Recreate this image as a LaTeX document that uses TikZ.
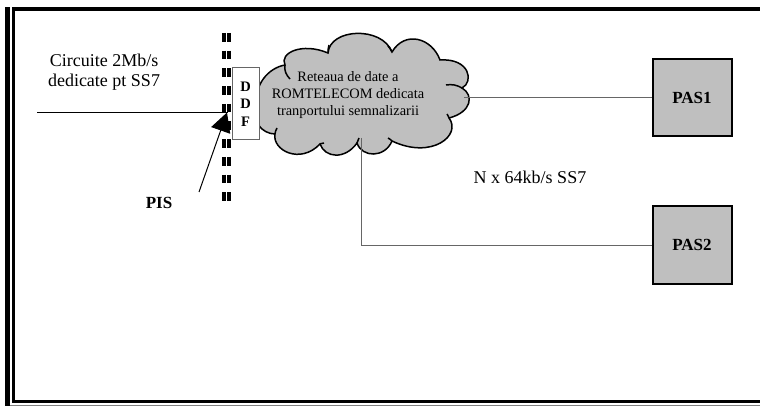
\documentclass[tikz,border=0pt]{standalone}
\usepackage{fontspec}
\setmainfont{Liberation Serif}
\usetikzlibrary{arrows.meta}

\begin{document}
\begin{tikzpicture}[x=1pt,y=-1pt,node distance=147pt,
                    pas node/.style={rectangle,draw=black,line width=2pt,fill=black!25,minimum width=79pt,minimum height=77pt,font=\fontsize{17}{20}\selectfont\bfseries},
                    ddf node/.style={rectangle,draw=black!60,line width=1pt,fill=white,minimum width=27pt,minimum height=72pt,inner sep=0pt,align=center,font=\fontsize{14.5}{17.5}\selectfont\bfseries},
                    label node/.style={align=center,inner sep=0pt,font=\fontsize{18}{20}\selectfont},
                    link/.style={draw=black!60,line width=1pt},
                    cloud line/.style={draw=black,line width=1.5pt},
                    bar/.style={line width=4pt,dash pattern=on 8.7pt off 9pt}]
  \useasboundingbox (0,0) rectangle (760,406);

  % frame
  \fill[black] (5,7) rectangle (9.5,406);
  \fill[black] (12,8) rectangle (15,403);
  \fill[black] (12,7) rectangle (760,11);
  \fill[black] (12,400) rectangle (760,403);
  \draw[black!50,line width=0.8pt] (10,405) -- (760,405);

  % cable cut
  \foreach \x in {223.7,229.3}
    \draw[bar] (\x,33) -- (\x,201);

  % cloud
  \path[cloud line,fill=black!25] (257,105)
    .. controls (254,85) and (268,68) .. (285,65)
    .. controls (279,53) and (302,42) .. (328,53)
    .. controls (330,28) and (382,26) .. (392,52)
    .. controls (405,30) and (432,38) .. (440,60)
    .. controls (470,58) and (474,82) .. (462,88)
    .. controls (474,95) and (472,112) .. (449,118)
    .. controls (462,135) and (432,160) .. (392,141)
    .. controls (385,158) and (362,158) .. (357,143)
    .. controls (345,160) and (325,158) .. (320,144)
    .. controls (300,165) and (272,150) .. (275,134)
    .. controls (262,134) and (250,120) .. (257,105) -- cycle;
  \draw[cloud line] (285,65) .. controls (284,70) and (286,75) .. (290,79);
  \draw[cloud line] (328,53) .. controls (328,51) and (328,48) .. (329,45);
  \draw[cloud line] (392,52) .. controls (391,50) and (390,48) .. (388,46);
  \draw[cloud line] (462,88) .. controls (457,85) and (452,84) .. (446,85);
  \draw[cloud line] (449,118) .. controls (449,117) and (448,116) .. (447,114);
  \draw[cloud line] (392,141) .. controls (391,140) and (390,139) .. (388,138);
  \draw[cloud line] (357,143) .. controls (358,141) and (358,140) .. (359,138);
  \draw[cloud line] (320,144) .. controls (321,144) and (322,143) .. (324,143);
  \draw[cloud line] (275,134) .. controls (275,132) and (276,130) .. (277,128);
  \node[align=center,inner sep=0pt,font=\fontsize{14.4}{17}\selectfont] (retea) at (348,95) {Reteaua de date a\\ROMTELECOM dedicata\\tranportului semnalizarii};

  \node[ddf node] (ddf) at (245.5,104) {D\\D\\F};
  \node[pas node] (pas1) at (692,98) {PAS1};
  \node[pas node] (pas2) [below of=pas1] {PAS2};
  \node[label node] (circuite) at (104,72) {Circuite 2Mb/s\\dedicate pt SS7};
  \node[label node] (nx) at (530,177) {N x 64kb/s SS7};
  \node[label node,font=\fontsize{17}{20}\selectfont\bfseries] (pis) at (159,203) {PIS};

  \coordinate (cloudright) at (464,98);
  \coordinate (cloudbottom) at (361,138);
  \coordinate (linestart) at (37,112.3);
  \coordinate (lineend) at (228,112.3);
  \coordinate (arrowstart) at (199,192);
  \coordinate (arrowtip) at (227,112.5);

  \draw[link] (cloudright) -- (pas1);
  \draw[link] (cloudbottom) |- (pas2);
  \draw[black,line width=1pt] (linestart) -- (lineend);
  \draw[-{Triangle[length=19pt,width=20pt]},black,line width=1pt] (arrowstart) -- (arrowtip);
\end{tikzpicture}
\end{document}
